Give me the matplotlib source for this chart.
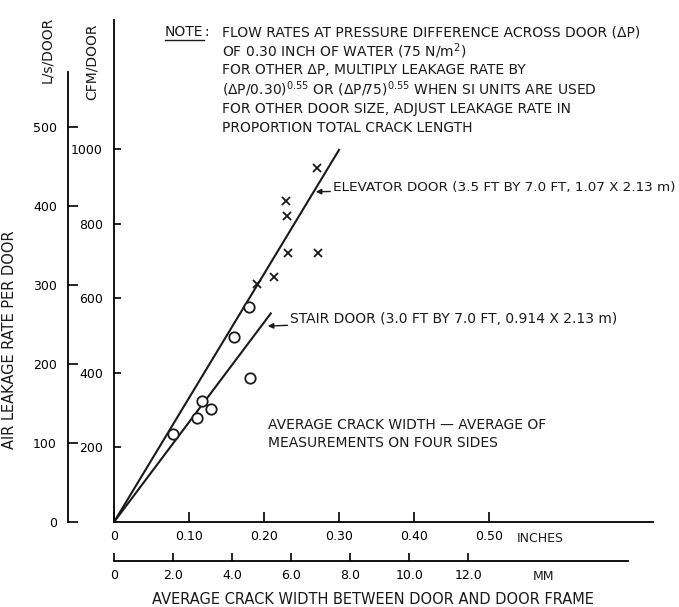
import numpy as np
import matplotlib
matplotlib.use("Agg")
import matplotlib.pyplot as plt
from matplotlib.lines import Line2D

plt.rcParams['font.family'] = ['DejaVu Sans']

# crack width (inches) vs leakage (L/s per door)
elev_x = [0.271, 0.229, 0.231, 0.232, 0.272, 0.213, 0.191]
elev_y = [448, 406, 387, 341, 341, 310, 301]
stair_x = [0.180, 0.160, 0.181, 0.117, 0.129, 0.111, 0.079]
stair_y = [272, 234, 182, 153, 143, 132, 111]

# hand fitted lines through the origin
elev_line_x = [0.0, 0.300]
elev_line_y = [0.0, 471.0]
stair_line_x = [0.0, 0.209]
stair_line_y = [0.0, 264.0]

inch_ticks = [0.0, 0.10, 0.20, 0.30, 0.40, 0.50]
inch_labels = ['0', '0.10', '0.20', '0.30', '0.40', '0.50']
mm_ticks = [0, 2, 4, 6, 8, 10, 12]
mm_labels = ['0', '2.0', '4.0', '6.0', '8.0', '10.0', '12.0']
ls_ticks = [0, 100, 200, 300, 400, 500]
cfm_ticks = [200, 400, 600, 800, 1000]

CFM_TO_LS = 0.4719
MM_PER_INCH = 25.4

W, H = 679, 607
fig = plt.figure(figsize=(W / 100, H / 100), dpi=100)

# plot frame in pixels: origin at (114, 522), 750 px per inch, 0.79 px per L/s
x0, y0, x1, y1 = 114, 522, 653, 20
ax = fig.add_axes([x0 / W, (H - y0) / H, (x1 - x0) / W, (y0 - y1) / H])
ax.set_xlim(0, (x1 - x0) / 750.0)
ax.set_ylim(0, (y0 - y1) / 0.79)
for s in ['top', 'right', 'left']:
    ax.spines[s].set_visible(False)
ax.spines['bottom'].set_linewidth(1.3)
ax.set_yticks([])
ax.set_xticks(inch_ticks)
ax.set_xticklabels(inch_labels)
ax.tick_params(axis='x', direction='in', length=7, width=1.2, pad=6, labelsize=9)

ink = '#1a1a1a'
ax.plot(elev_line_x, elev_line_y, color=ink, lw=1.5)
ax.plot(stair_line_x, stair_line_y, color=ink, lw=1.5)
ax.plot(elev_x, elev_y, 'x', color=ink, ms=6, mew=1.3)
ax.plot(stair_x, stair_y, 'o', mfc='white', mec=ink, ms=7.5, mew=1.3)

# CFM scale sits on the left edge of the frame
cfm = ax.secondary_yaxis(0, functions=(lambda v: v / CFM_TO_LS, lambda c: c * CFM_TO_LS))
cfm.set_yticks(cfm_ticks)
cfm.set_yticklabels([str(c) for c in cfm_ticks])
cfm.tick_params(direction='in', length=5, width=1.2, pad=8, labelsize=9)
cfm.spines['left'].set_linewidth(1.3)

# L/s scale further out
ls = ax.secondary_yaxis(-(x0 - 68) / (x1 - x0), functions=(lambda v: v, lambda v: v))
ls.set_yticks(ls_ticks)
ls.set_yticklabels([str(v) for v in ls_ticks])
ls.tick_params(direction='in', length=7, width=1.2, pad=8, labelsize=9)
ls.spines['left'].set_linewidth(1.3)
ls.spines['left'].set_bounds(0, 570)

# millimetre scale below the inch scale
mm = ax.secondary_xaxis(-(561 - y0) / (y0 - y1),
                        functions=(lambda i: i * MM_PER_INCH, lambda m: m / MM_PER_INCH))
mm.set_xticks(mm_ticks)
mm.set_xticklabels(mm_labels)
mm.tick_params(direction='in', length=6, width=1.2, pad=6, labelsize=9)
mm.spines['bottom'].set_linewidth(1.3)
mm.spines['bottom'].set_bounds(0, (628 - x0) / 750.0 * MM_PER_INCH)


def ftext(x, y, s, **kw):
    kw.setdefault('fontsize', 10)
    kw.setdefault('color', ink)
    return fig.text(x / W, 1 - y / H, s, **kw)


ftext(540, 538, 'INCHES', ha='center', va='center', fontsize=9)
ftext(543, 577, 'MM', ha='center', va='center', fontsize=9)
ftext(373, 599, 'AVERAGE CRACK WIDTH BETWEEN DOOR AND DOOR FRAME',
      ha='center', va='center', fontsize=10.5)

ftext(47, 50, 'L/s/DOOR', rotation=90, ha='center', va='center', fontsize=10)
ftext(92, 62, 'CFM/DOOR', rotation=90, ha='center', va='center', fontsize=10)
ftext(10, 340, 'AIR LEAKAGE RATE PER DOOR', rotation=90, ha='center', va='center',
      fontsize=10.5)

note_lines = [
    'FLOW RATES AT PRESSURE DIFFERENCE ACROSS DOOR (ΔP)',
    'OF 0.30 INCH OF WATER (75 N/m$^2$)',
    'FOR OTHER ΔP, MULTIPLY LEAKAGE RATE BY',
    '(ΔP/0.30)$^{0.55}$ OR (ΔP/75)$^{0.55}$ WHEN SI UNITS ARE USED',
    'FOR OTHER DOOR SIZE, ADJUST LEAKAGE RATE IN',
    'PROPORTION TOTAL CRACK LENGTH',
]
note_y = [32, 51, 70, 89, 109, 128]
note_word = ftext(165, 32, 'NOTE', ha='left', va='center')
fig.canvas.draw()
bb = note_word.get_window_extent(fig.canvas.get_renderer())
ftext(bb.x1 + 1, 32, ':', ha='left', va='center')
for s, yy in zip(note_lines, note_y):
    ftext(222, yy, s, ha='left', va='center')

# underline NOTE
fig.add_artist(Line2D([bb.x0 / W, bb.x1 / W], [(bb.y0 - 1) / H] * 2,
                      transform=fig.transFigure, color=ink, lw=1.0))

arrow = dict(arrowstyle='-|>', color=ink, lw=1.0, mutation_scale=8,
             shrinkA=0, shrinkB=0)
ax.annotate('ELEVATOR DOOR (3.5 FT BY 7.0 FT, 1.07 X 2.13 m)',
            xy=(0.269, 418), xytext=(0.292, 423), textcoords='data',
            ha='left', va='center', fontsize=9.7, color=ink, arrowprops=arrow)
ax.annotate('STAIR DOOR (3.0 FT BY 7.0 FT, 0.914 X 2.13 m)',
            xy=(0.205, 248), xytext=(0.235, 257), textcoords='data',
            ha='left', va='center', fontsize=10, color=ink, arrowprops=arrow)
ax.text(0.205, 123, 'AVERAGE CRACK WIDTH \u2014 AVERAGE OF', ha='left', va='center',
        fontsize=10, color=ink)
ax.text(0.205, 100, 'MEASUREMENTS ON FOUR SIDES', ha='left', va='center',
        fontsize=10, color=ink)

fig.savefig('out.png', dpi=100)
